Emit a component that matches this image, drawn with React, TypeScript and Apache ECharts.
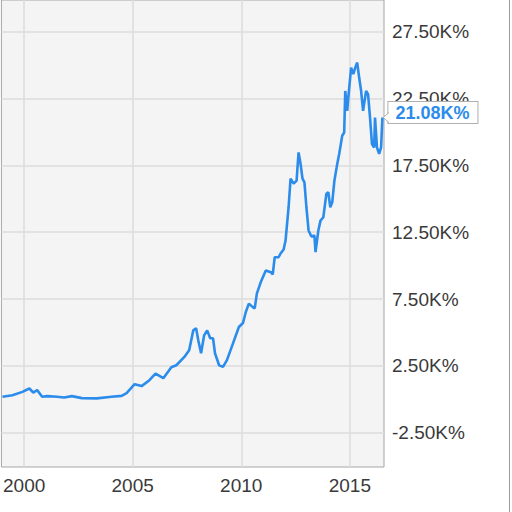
import React, { useEffect, useRef } from "react";
import * as echarts from "echarts";

// decimal years
const years: number[] = [
  1999.0, 1999.46, 1999.92, 2000.24, 2000.42, 2000.6, 2000.83, 2001.06, 2001.52, 2001.84,
  2002.2, 2002.66, 2003.35, 2004.03, 2004.49, 2004.72, 2005.09, 2005.41, 2005.77, 2006.05,
  2006.41, 2006.78, 2007.01, 2007.38, 2007.6, 2007.79, 2007.92, 2008.02, 2008.15, 2008.29,
  2008.43, 2008.57, 2008.7, 2008.79, 2008.98, 2009.16, 2009.34, 2009.62, 2009.89, 2010.08,
  2010.21, 2010.35, 2010.53, 2010.62, 2010.72, 2010.9, 2011.13, 2011.36, 2011.45, 2011.54,
  2011.72, 2011.81, 2011.95, 2012.04, 2012.18, 2012.27, 2012.41, 2012.55, 2012.59, 2012.64,
  2012.73, 2012.82, 2012.91, 2013.0, 2013.1, 2013.23, 2013.37, 2013.42, 2013.55, 2013.65,
  2013.78, 2013.92, 2014.01, 2014.1, 2014.19, 2014.29, 2014.42, 2014.51, 2014.65, 2014.74,
  2014.79, 2014.88, 2014.93, 2015.06, 2015.16, 2015.25, 2015.34, 2015.43, 2015.52, 2015.61,
  2015.75, 2015.84, 2015.93, 2016.02, 2016.12, 2016.16, 2016.25, 2016.35, 2016.44, 2016.5,
];

// total return, thousands of percent
const returnsK: number[] = [
  0.19, 0.31, 0.56, 0.81, 0.51, 0.69, 0.19, 0.24, 0.19, 0.14,
  0.24, 0.09, 0.07, 0.19, 0.26, 0.46, 1.13, 0.99, 1.43, 1.93,
  1.58, 2.4, 2.55, 3.17, 3.67, 5.16, 5.31, 4.42, 3.45, 4.79,
  5.16, 4.57, 4.57, 3.45, 2.55, 2.43, 2.93, 4.19, 5.41, 5.71,
  6.53, 7.16, 6.9, 6.81, 7.93, 8.77, 9.64, 9.51, 9.34, 10.63,
  10.63, 10.91, 11.21, 11.88, 14.37, 16.51, 16.13, 16.36, 17.35, 18.47,
  17.63, 16.51, 16.23, 14.37, 12.63, 12.18, 12.25, 11.01, 12.63, 13.37,
  13.62, 15.37, 15.49, 14.37, 14.74, 16.36, 17.6, 18.35, 19.72, 19.96,
  23.07, 21.58, 22.57, 24.81, 24.32, 24.81, 25.19, 24.07, 23.07, 21.58,
  23.07, 22.83, 21.08, 19.1, 18.84, 21.08, 18.84, 18.37, 18.84, 21.08,
];

const xTickYears: number[] = [2000, 2005, 2010, 2015];
const yTickValues: number[] = [-2.5, 2.5, 7.5, 12.5, 17.5, 22.5, 27.5];
const lastLabel = "21.08K%";

const FONT = "'Liberation Sans', Arial, sans-serif";
const BLUE = "#2b8ceb";
const BOX_BORDER = "#b0b0b0";
const LABEL_DIST = 6;

export default function App() {
  const ref = useRef<HTMLDivElement>(null);
  useEffect(() => {
    if (!ref.current) return;
    const chart = echarts.init(ref.current, null, { renderer: "svg" });
    const data = years.map((y, i) => [y, returnsK[i]]);
    chart.setOption({
      animation: false,
      backgroundColor: "#ffffff",
      textStyle: { fontFamily: FONT },
      grid: {
        left: -1,
        right: 128,
        top: -1,
        bottom: 45,
        show: true,
        backgroundColor: "#f4f4f4",
        borderColor: "#a6a6a6",
        borderWidth: 1,
      },
      xAxis: {
        type: "value",
        min: 1998.954,
        max: 2016.574,
        axisLine: { show: false },
        axisTick: { show: false, customValues: xTickYears },
        axisLabel: {
          customValues: xTickYears,
          formatter: (v: number) => String(Math.round(v)),
          color: "#3a3a3a",
          fontSize: 19,
          fontFamily: FONT,
          margin: 9,
        },
        splitLine: { show: true, lineStyle: { color: "#dcdcdc", width: 1.5 } },
      },
      yAxis: {
        type: "value",
        position: "right",
        min: -5.06,
        max: 29.87,
        axisLine: { show: false },
        axisTick: { show: false, customValues: yTickValues },
        axisLabel: {
          customValues: yTickValues,
          formatter: (v: number) => v.toFixed(2) + "K%",
          color: "#3a3a3a",
          fontSize: 19,
          fontFamily: FONT,
          margin: 8,
        },
        splitLine: { show: true, lineStyle: { color: "#dcdcdc", width: 1.5 } },
      },
      series: [
        {
          type: "line",
          data,
          showSymbol: false,
          symbol: "none",
          lineStyle: { color: BLUE, width: 2.6 },
          endLabel: {
            show: true,
            formatter: () => lastLabel,
            color: BLUE,
            fontWeight: "bold",
            fontSize: 18,
            fontFamily: FONT,
            backgroundColor: "#ffffff",
            borderColor: BOX_BORDER,
            borderWidth: 1,
            padding: [2, 8, 1, 7],
            distance: LABEL_DIST,
            offset: [0, -5],
          },
        },
      ],
      graphic: [
        {
          type: "line",
          shape: { x1: 509.5, y1: 0, x2: 509.5, y2: 512 },
          style: { stroke: "#9a9a9a", lineWidth: 1 },
        },
      ],
    });
    // pointer arrow of the last-value label, placed from the last data point
    const last = data[data.length - 1];
    const p = chart.convertToPixel({ gridIndex: 0 }, last) as number[];
    if (p) {
      const px = p[0];
      const py = p[1];
      const bx = px + LABEL_DIST;
      chart.setOption({
        graphic: [
          {
            type: "line",
            shape: { x1: 509.5, y1: 0, x2: 509.5, y2: 512 },
            style: { stroke: "#9a9a9a", lineWidth: 1 },
          },
          {
            type: "polygon",
            z: 100,
            shape: { points: [[bx + 1, py - 5], [px + 1, py], [bx + 1, py + 5]] },
            style: { fill: "#ffffff", stroke: "none" },
          },
          {
            type: "polyline",
            z: 101,
            shape: { points: [[bx + 0.5, py - 5], [px + 1, py], [bx + 0.5, py + 5]] },
            style: { stroke: BOX_BORDER, lineWidth: 1, fill: "none" },
          },
        ],
      });
    }
    return () => chart.dispose();
  }, []);
  return (
    <div
      ref={ref}
      style={{ position: "fixed", left: 0, top: 0, width: 512, height: 512, background: "#fff" }}
    />
  );
}
